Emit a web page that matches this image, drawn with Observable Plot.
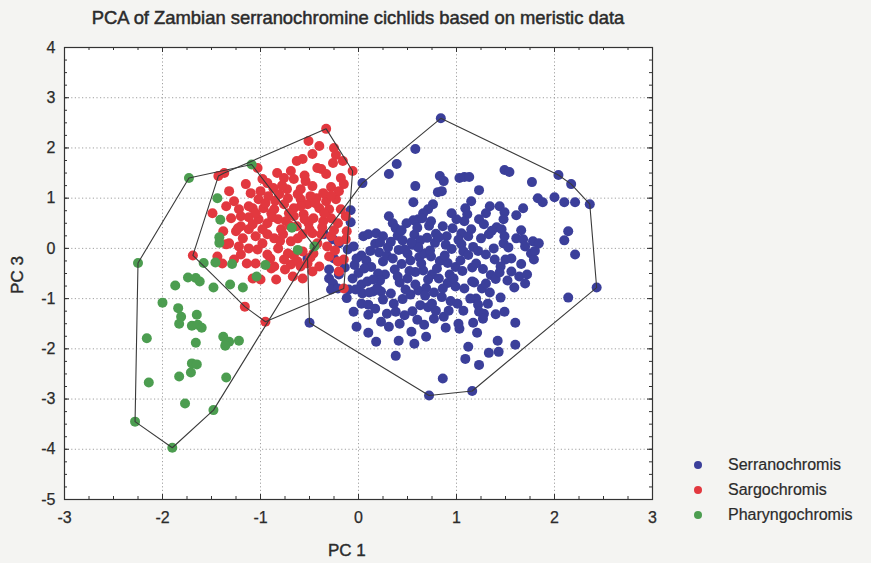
<!DOCTYPE html>
<html>
<head>
<meta charset="utf-8">
<script src="https://cdn.jsdelivr.net/npm/d3@7"></script>
<script src="https://cdn.jsdelivr.net/npm/@observablehq/plot@0.6"></script>
<style>
  body { margin: 0; background: #f4f4f2; }
  #wrap { position: relative; width: 871px; height: 563px; font-family: "Liberation Sans", Arial, sans-serif; color: #2b2b2b; }
  #chart { position: absolute; left: 0; top: 0; }
  #chart svg text { stroke: #2b2b2b; stroke-width: 0.25px; }
  #title { position: absolute; left: 0; width: 716px; top: 8px; text-align: center; font-size: 18.4px; line-height: 20px; -webkit-text-stroke: 0.5px #2b2b2b; }
  .axis-title { position: absolute; font-size: 17px; line-height: 18px; -webkit-text-stroke: 0.4px #2b2b2b; white-space: nowrap; }
  #xt { left: 328px; top: 542px; }
  #yt { left: -2px; top: 266px; transform: rotate(-90deg); transform-origin: 50% 50%; width: 40px; text-align: center; }
  #legend { position: absolute; left: 690px; top: 452px; }
  .item { display: flex; align-items: center; height: 25px; font-size: 16px; -webkit-text-stroke: 0.2px #2b2b2b; }
  .sw { width: 8px; height: 8px; border-radius: 50%; margin-left: 4px; margin-right: 26px; }
</style>
</head>
<body>
<div id="wrap">
  <div id="chart"></div>
  <div id="title">PCA of Zambian serranochromine cichlids based on meristic data</div>
  <div class="axis-title" id="xt">PC 1</div>
  <div class="axis-title" id="yt">PC 3</div>
  <div id="legend"></div>
</div>
<script>
// Principal component scores (PC 1, PC 3) per specimen, grouped by genus.
const serranochromis = [
  [0.84,2.59],[0.58,1.98],[0.39,1.68],[0.31,1.48],[0.04,1.30],[0.83,1.44],[0.87,1.34],[0.58,1.24],
  [1.03,1.40],[0.81,1.12],[0.85,1.14],[0.56,0.92],[0.95,0.70],[0.76,0.88],[0.71,0.78],[0.66,0.70],
  [0.61,0.58],[0.56,0.56],[0.31,0.64],[0.35,0.50],[0.38,0.40],[0.43,0.34],[-0.08,0.76],[-0.08,0.52],
  [0.05,0.24],[0.10,0.28],[0.18,0.30],[0.25,0.24],[1.49,1.56],[1.54,1.52],[2.04,1.46],[2.17,1.28],
  [2.36,0.88],[1.08,1.42],[1.13,1.42],[1.77,1.32],[1.23,1.16],[2.00,1.02],[1.83,1.00],[1.88,0.92],
  [2.10,0.92],[2.21,0.92],[1.34,0.84],[1.44,0.84],[1.68,0.80],[1.61,0.66],[1.49,0.72],[1.48,0.58],
  [1.09,0.80],[1.11,0.68],[1.08,0.54],[1.23,0.58],[1.28,0.48],[1.41,0.42],[1.46,0.38],[1.66,0.36],
  [2.14,0.34],[2.10,0.16],[1.61,0.20],[1.68,0.18],[1.78,0.14],[1.84,0.10],[1.48,0.10],[1.38,0.00],
  [2.21,-0.12],[1.05,0.30],[1.15,0.38],[1.56,-0.20],[1.76,-0.10],[1.79,-0.22],[2.43,-0.78],[2.14,-0.98],
  [1.64,-0.56],[1.59,-0.78],[1.50,-0.22],[1.16,-0.38],[1.18,-0.68],[1.45,-0.98],[1.49,-1.26],[1.60,-1.48],
  [1.20,-1.00],[1.22,-1.12],[1.23,-1.26],[1.28,-1.30],[1.27,-1.40],[1.07,-1.24],[1.17,-1.48],[1.21,-1.68],
  [1.03,-1.60],[1.42,-1.84],[1.60,-1.92],[1.33,-2.08],[1.43,-2.06],[1.12,-1.96],[1.09,-2.20],[1.23,-2.32],
  [1.16,-2.84],[-0.50,-1.48],[0.72,-2.93],[0.86,-2.59],[0.38,-2.14],[0.41,-1.84],[0.57,-1.90],[0.10,-1.68],
  [-0.02,-1.56],[0.31,-1.56],[0.42,-1.50],[0.67,-1.52],[0.77,-1.40],[0.87,-1.36],[-0.05,-1.26],[0.10,-1.32],
  [0.03,-1.10],[0.10,-1.12],[0.03,-0.72],[0.04,-0.90],[-0.30,-0.42],[-0.30,-0.60],[-0.26,-0.70],[-0.20,-0.52],
  [-0.28,-0.82],[-0.21,-0.80],[-0.10,-0.82],[0.15,-0.86],[0.23,-0.86],[1.02,-1.50],[-0.35,0.28],[-0.20,0.10],
  [-0.25,-0.20],[-0.52,-0.20],[-0.26,0.18],
  [-0.11,-0.02],[-0.04,-0.33],[0.03,-0.14],[0.12,-0.05],[0.17,0.09],[0.21,-0.08],[0.33,0.13],[0.40,0.25],
  [0.45,0.16],[0.57,0.27],[0.60,0.41],[0.72,0.45],[0.79,0.29],[0.86,0.44],[0.90,0.24],[1.02,0.17],
  [1.05,0.08],[1.17,0.03],[1.25,0.20],[1.33,0.28],[1.36,0.35],[1.49,0.24],[1.53,0.02],[1.70,0.04],
  [1.80,-0.05],[-0.14,-0.38],[-0.06,-0.60],[0.00,-0.49],[0.08,-0.24],[0.13,-0.37],[0.25,-0.26],[0.29,-0.14],
  [0.41,-0.03],[0.50,-0.10],[0.55,0.07],[0.63,0.16],[0.70,0.21],[0.78,0.11],[0.89,0.07],[0.95,-0.01],
  [1.07,-0.06],[1.12,-0.13],[1.22,-0.05],[1.30,-0.12],[1.39,-0.22],[1.45,-0.36],[1.56,-0.46],[1.66,-0.31],
  [1.72,-0.52],[-0.12,-0.99],[-0.03,-0.82],[0.09,-0.66],[0.19,-0.79],[0.27,-0.52],[0.37,-0.42],[0.44,-0.31],
  [0.53,-0.24],[0.62,-0.17],[0.67,-0.10],[0.74,-0.16],[0.83,-0.25],[0.91,-0.29],[0.99,-0.37],[1.06,-0.45],
  [1.27,-0.41],[1.35,-0.53],[1.40,-0.61],[1.52,-0.64],[1.70,-0.70],[0.25,-1.02],[0.33,-0.90],[0.42,-0.68],
  [0.50,-0.60],[0.58,-0.47],[0.66,-0.44],[0.75,-0.52],[0.82,-0.60],[0.91,-0.69],[0.99,-0.76],[1.08,-0.80],
  [1.26,-0.80],[1.34,-0.88],[0.17,-1.20],[0.29,-1.30],[0.36,-1.10],[0.45,-1.01],[0.53,-0.92],[0.61,-0.84],
  [0.69,-0.79],[0.77,-0.88],[0.85,-0.97],[0.94,-1.05],[1.01,-1.10],[1.14,-1.00],[1.32,-1.10],[1.40,-1.31],
  [0.47,-1.33],[0.55,-1.25],[0.63,-1.13],[0.71,-1.17],[0.79,-1.24],[0.89,-1.58],[0.54,-1.66],[0.69,-1.76],
  [0.23,-1.46],[0.18,-1.86],[1.00,0.58],[1.15,0.94],[1.30,0.70],[0.74,0.54],[0.49,0.50],
  [0.47,-0.02],[0.52,-0.45],[0.58,-0.72],[0.64,-0.30],[0.71,-0.62],[0.73,-0.04],[0.80,-0.40],[0.86,-0.80],
  [0.88,-0.14],[0.93,-0.52],[0.48,-0.82],[0.40,-0.56],[0.35,-0.20],[0.30,0.02],[0.20,-0.50],[0.06,-0.40],
  [-0.02,-0.20],[0.11,-0.88],[0.22,-0.64],[0.61,0.02],[0.68,-0.94],[0.75,-1.10],[0.97,-0.60],[1.04,-0.24],
  [1.16,-0.66],[1.20,-0.30],[0.54,0.12],[0.44,0.36],[0.82,0.22],[1.12,0.24],[0.96,0.40],[0.65,0.60],
  [0.22,0.12],[-0.05,0.04],[0.38,-1.26],[0.60,-1.42],[0.92,-1.24],[1.30,-0.70],[1.44,-0.48],[0.15,-0.62]
];

const sargochromis = [
  [-0.33,2.38],[-0.51,2.14],[-0.57,1.78],[-0.47,1.88],[-0.25,2.00],[-0.23,1.86],[-0.38,1.58],[-0.33,1.48],
  [-0.18,1.40],[-0.15,1.28],[-0.06,1.54],[-1.43,1.44],[-1.37,1.50],[-1.03,1.60],[-0.66,1.38],[-0.54,1.34],
  [-0.76,1.40],[-0.93,1.30],[-0.87,1.20],[-1.32,1.14],[-1.10,1.10],[-1.00,1.14],[-1.27,0.94],[-1.02,0.98],
  [-0.81,1.08],[-0.72,1.00],[-0.59,0.98],[-0.43,1.00],[-0.33,0.94],[-0.23,0.98],[-1.30,0.60],[-1.20,0.64],
  [-1.08,0.80],[-0.97,0.80],[-0.86,0.78],[-0.76,0.88],[-0.66,0.80],[-0.52,0.88],[-0.40,0.80],[-1.38,0.34],
  [-1.25,0.34],[-1.12,0.38],[-1.02,0.58],[-0.93,0.50],[-0.82,0.58],[-0.74,0.54],[-0.66,0.64],[-0.56,0.68],
  [-0.46,0.60],[-0.36,0.54],[-0.28,0.60],[-0.21,0.50],[-1.22,0.04],[-1.12,0.00],[-1.03,-0.02],[-0.93,0.28],
  [-0.86,0.20],[-0.77,0.28],[-0.57,0.28],[-0.47,0.30],[-0.38,0.28],[-0.28,0.24],[-0.12,0.34],[-0.13,0.18],
  [-1.44,-0.16],[-1.69,-0.14],[-1.27,-0.22],[-1.20,-0.12],[-0.93,-0.12],[-0.82,0.00],[-0.72,-0.10],[-0.57,-0.06],
  [-0.86,-0.36],[-0.69,-0.32],[-0.62,-0.26],[-0.21,-0.26],[-0.15,-0.22],[-1.08,-0.60],[-1.00,-0.62],[-0.84,-0.62],
  [-0.57,-0.60],[-0.15,-0.80],[-0.95,-1.46],[-1.16,-1.16],[-0.49,-0.18],
  [-1.15,1.28],[-0.98,1.38],[-0.83,1.50],[-0.69,1.54],[-0.59,1.18],[-0.47,1.24],[-0.28,1.22],[-0.20,1.14],
  [-0.63,1.74],[-0.40,2.04],[-0.73,1.18],[-0.92,1.04],[-1.12,0.84],[-1.20,0.44],[-1.05,0.24],[-0.98,0.10],
  [-0.69,0.14],[-0.63,0.44],[-0.51,0.50],[-0.42,0.10],[-0.32,0.04],[-0.20,0.14],[-0.30,0.78],[-0.18,0.78],
  [-0.13,0.64],[-0.79,0.38],[-0.89,0.70],[-0.59,0.84],[-0.49,1.04],[-0.36,1.10],[-0.71,0.70],[-0.98,0.38],
  [-1.12,0.62],[-1.22,0.78],[-1.32,0.10],[-1.39,-0.30],[-1.05,-0.30],[-0.75,-0.42],[-0.67,-0.56],[-0.30,-0.16],
  [-0.40,-0.36],[-0.20,-0.46],[-1.35,0.84],[-1.49,0.70],[-0.47,-0.46],[-0.76,-0.22],[-1.14,-0.30],[-0.59,-0.36],
  [-0.26,1.70],[-0.16,1.74],[-1.23,0.40],[-1.35,0.08],[-0.89,-0.40],
  [-0.95,0.90],[-0.85,0.95],[-0.62,1.08],[-0.44,0.90],[-0.35,0.70],[-0.55,0.58],[-0.70,0.45],[-0.88,0.62],
  [-1.05,0.70],[-0.80,0.15],[-0.62,0.20],[-0.50,0.38],[-0.37,0.42],[-0.25,0.36],[-0.90,-0.20],[-0.66,-0.14],
  [-0.52,-0.30],[-0.78,1.25],[-0.55,1.45],[-0.42,1.60],[-1.18,0.20],[-1.08,0.48],[-0.28,1.05],[-0.24,-0.04],
  [-0.46,-0.10]
];

const pharyngochromis = [
  [-1.73,1.40],[-1.09,1.67],[-1.44,1.00],[-1.41,0.57],[-1.42,0.22],[-1.42,0.11],[-2.25,-0.29],[-1.58,-0.29],
  [-1.46,-0.28],[-1.29,-0.31],[-1.74,-0.58],[-1.66,-0.59],[-1.62,-0.66],[-1.87,-0.74],[-1.48,-0.78],[-1.31,-0.72],
  [-1.18,-0.78],[-0.95,-0.33],[-1.04,-0.56],[-0.68,0.41],[-0.62,-0.03],[-0.45,0.04],[-2.00,-1.08],[-1.84,-1.19],
  [-1.81,-1.36],[-1.83,-1.50],[-1.65,-1.32],[-1.70,-1.54],[-1.64,-1.52],[-1.60,-1.58],[-2.16,-1.79],[-1.66,-1.88],
  [-1.38,-1.76],[-1.35,-1.89],[-1.32,-1.86],[-1.22,-1.84],[-1.36,-1.94],[-1.70,-2.29],[-1.65,-2.31],[-1.71,-2.47],
  [-1.83,-2.55],[-2.14,-2.67],[-1.35,-2.57],[-1.77,-3.09],[-1.48,-3.22],[-2.28,-3.45],[-1.90,-3.97]
];

const genera = ["Serranochromis", "Sargochromis", "Pharyngochromis"];
const xTickValues = [-3, -2, -1, 0, 1, 2, 3];
const yTickValues = [-5, -4, -3, -2, -1, 0, 1, 2, 3, 4];

const palette = ["#3b3f9a", "#e2383f", "#4c9d50"];

const rows = [serranochromis, sargochromis, pharyngochromis].flatMap((pts, i) =>
  pts.map(([pc1, pc3]) => ({pc1, pc3, genus: genera[i]}))
);

const W = 871, H = 563;
const M = {top: 47, right: 219, bottom: 64, left: 64};
const innerW = W - M.left - M.right;
const innerH = H - M.top - M.bottom;

// minor ticks every quarter unit on all four sides of the frame
const minorX = d3.range(-3, 3.001, 0.25);
const minorY = d3.range(-5, 4.001, 0.25);
const tickStroke = {stroke: "#333", strokeWidth: 1};

const chart = Plot.plot({
  width: W, height: H,
  marginTop: M.top, marginRight: M.right, marginBottom: M.bottom, marginLeft: M.left,
  x: {domain: [-3, 3]},
  y: {domain: [-5, 4]},
  color: {domain: genera, range: palette},
  style: {background: "transparent", fontFamily: "'Liberation Sans', Arial, sans-serif", fontSize: "16px", color: "#2b2b2b"},
  marks: [
    Plot.frame({fill: "#fff", stroke: null}),
    Plot.gridX(xTickValues, {stroke: "#8a8a8a", strokeOpacity: 0.8, strokeDasharray: "1.2,2.4"}),
    Plot.gridY(yTickValues, {stroke: "#8a8a8a", strokeOpacity: 0.8, strokeDasharray: "1.2,2.4"}),
    Plot.dot(rows, {x: "pc1", y: "pc3", fill: "genus", r: 5}),
    Plot.hull(rows, {x: "pc1", y: "pc3", z: "genus", stroke: "#3a3a3a", strokeWidth: 1.1}),
    Plot.frame({stroke: "#333", strokeWidth: 1.2}),
    Plot.tickX(minorX, {x: d => d, insetTop: innerH - 3, ...tickStroke}),
    Plot.tickX(minorX, {x: d => d, insetBottom: innerH - 3, ...tickStroke}),
    Plot.tickY(minorY, {y: d => d, insetRight: innerW - 3, ...tickStroke}),
    Plot.tickY(minorY, {y: d => d, insetLeft: innerW - 3, ...tickStroke}),
    Plot.tickX(xTickValues, {x: d => d, insetTop: innerH - 5, ...tickStroke}),
    Plot.tickX(xTickValues, {x: d => d, insetBottom: innerH - 5, ...tickStroke}),
    Plot.tickY(yTickValues, {y: d => d, insetRight: innerW - 5, ...tickStroke}),
    Plot.tickY(yTickValues, {y: d => d, insetLeft: innerW - 5, ...tickStroke}),
    Plot.axisX(xTickValues, {tickSize: 0, tickPadding: 12, tickFormat: d => String(d), label: null, fontSize: 16}),
    Plot.axisY(yTickValues, {tickSize: 0, tickPadding: 9, tickFormat: d => String(d), label: null, fontSize: 16})
  ]
});
document.getElementById("chart").appendChild(chart);

// legend
const legend = document.getElementById("legend");
genera.forEach((g, i) => {
  const item = document.createElement("div");
  item.className = "item";
  const sw = document.createElement("span");
  sw.className = "sw";
  sw.style.background = palette[i];
  const label = document.createElement("span");
  label.textContent = g;
  item.append(sw, label);
  legend.appendChild(item);
});
</script>
</body>
</html>
